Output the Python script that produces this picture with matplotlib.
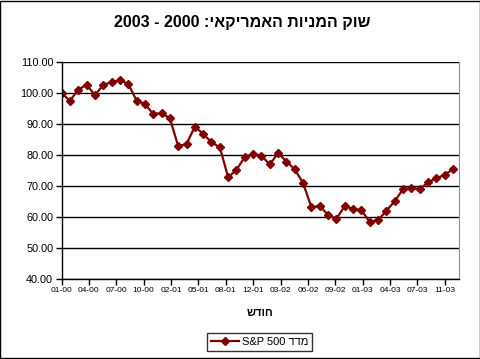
import matplotlib
matplotlib.use("Agg")
import matplotlib.pyplot as plt
import numpy as np
from matplotlib.patches import Rectangle

plt.rcParams['font.family'] = ['Liberation Sans', 'DejaVu Sans']

# monthly categories 01-00 .. 12-03
months = ["%02d-%02d" % (m, y) for y in range(0, 4) for m in range(1, 13)]

# S&P 500 index (Jan 2000 = 100)
sp500 = [100.0, 97.5, 101.1, 102.7, 99.4, 102.5, 103.6, 104.1, 103.0, 97.6,
         96.5, 93.3, 93.5, 91.9, 82.9, 83.5, 89.2, 86.8, 84.1, 82.5,
         72.8, 75.2, 79.4, 80.3, 79.7, 77.0, 80.6, 77.9, 75.4, 70.9,
         63.1, 63.6, 60.6, 59.5, 63.5, 62.6, 62.2, 58.4, 59.0, 62.0,
         65.1, 69.0, 69.3, 69.0, 71.2, 72.5, 73.6, 75.5]

tick_labels = ["01-00", "04-00", "07-00", "10-00", "02-01", "05-01", "08-01",
               "12-01", "03-02", "06-02", "09-02", "01-03", "04-03", "07-03", "11-03"]

# hebrew strings written in visual (left to right) order
title = "2003 - 2000 :" + "שוק המניות האמריקאי"[::-1]
xlabel = "חודש"[::-1]
legend_label = "S&P 500 " + "מדד"[::-1]

fig = plt.figure(figsize=(4.81, 3.59), dpi=100)
ax = fig.add_axes([0.128, 0.223, 0.826, 0.604])

x = np.arange(len(sp500))
ax.plot(x, sp500, color='#800000', lw=1.6, marker='D', markersize=4,
        markeredgecolor='#800000', markerfacecolor='#800000', label=legend_label)

ax.set_xlim(0, 47.7)
ax.set_ylim(40, 110)
ax.set_yticks(np.arange(40, 111, 10))
ax.set_yticklabels(["%.2f" % v for v in np.arange(40, 111, 10)], fontsize=7.8)
ax.yaxis.grid(True, color='black', lw=1)
ax.set_axisbelow(True)

ticks = np.linspace(0, 46, len(tick_labels))
ax.set_xticks(ticks)
ax.set_xticklabels(tick_labels, fontsize=6)
ax.tick_params(axis='both', length=4, width=1, color='black', pad=2)

ax.spines['top'].set_visible(False)
ax.spines['right'].set_color('#909090')
ax.spines['left'].set_linewidth(1)
ax.spines['bottom'].set_linewidth(1)

fig.text(0.503, 0.938, title, ha='center', va='center', fontsize=11.5, fontweight='bold')
fig.text(0.541, 0.128, xlabel, ha='center', va='center', fontsize=8, fontweight='bold')

leg = fig.legend(loc='center', bbox_to_anchor=(0.54, 0.047), fontsize=8,
                 frameon=True, fancybox=False, edgecolor='black', handlelength=2.5,
                 borderpad=0.35, handletextpad=0.3)
leg.get_frame().set_linewidth(1)

fig.patches.append(Rectangle((0.001, 0.0015), 0.997, 0.996, transform=fig.transFigure,
                             fill=False, edgecolor='black', lw=1))

fig.savefig("out.png", dpi=100)
